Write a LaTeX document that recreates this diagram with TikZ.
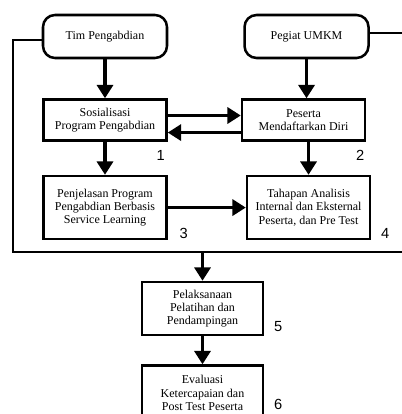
\documentclass[tikz,border=0pt]{standalone}
\usepackage{fontspec}
\setmainfont{Liberation Serif}
\newfontfamily\numfont{Liberation Sans}
\usetikzlibrary{positioning}
\usetikzlibrary{arrows.meta}
\tikzset{%
  flowarrow/.style = {-{Triangle[width=12pt,length=10pt]},line width=2.4pt},
  loopline/.style = {line width=1.9pt},
  t/.style = {rectangle,rounded corners=9pt,draw,line width=1.9pt,minimum width=93pt,
        minimum height=32.25pt,align=center,font=\fontsize{9}{10}\selectfont},
  b/.style = {rectangle,draw,line width=1.9pt,minimum width=92.25pt,
        minimum height=30.75pt,align=center,font=\fontsize{9}{10}\selectfont},
  num/.style = {font=\numfont\fontsize{11}{12}\selectfont}
}

\begin{document}
\begin{tikzpicture}[x=0.75pt,y=-0.75pt]
   \useasboundingbox (0,0) rectangle (401,414);
   \node[t] (tim) at (105,36.5) {Tim Pengabdian};
   \node[t] (pegiat) [right=56.25pt of tim] {Pegiat UMKM};
   \node[b] (sos) [below=29.25pt of tim] {Sosialisasi\\Program Pengabdian};
   \node[b] (pes) [right=54.75pt of sos] {Peserta\\Mendaftarkan Diri};
   \node[b,minimum height=47.25pt] (penj) [below=24.75pt of sos]
      {Penjelasan Program\\Pengabdian Berbasis\\Service Learning};
   \node[b,minimum height=47.25pt] (tah) [right=58.5pt of penj]
      {Tahapan Analisis\\Internal dan Eksternal\\Peserta, dan Pre Test};
   \node[b,minimum width=90.75pt,minimum height=39.75pt] (pel) at (202.5,308.5)
      {Pelaksanaan\\Pelatihan dan\\Pendampingan};
   \node[b,minimum width=90.75pt,minimum height=41.25pt] (eval) [below=21pt of pel]
      {Evaluasi\\Ketercapaian dan\\Post Test Peserta};
   % step numbers
   \node[num] (n1) at ([xshift=-5.25pt,yshift=-10.5pt]sos.south east) {1};
   \node[num] (n2) at ([xshift=-4.5pt,yshift=-10.5pt]pes.south east) {2};
   \node[num] (n3) at ([xshift=12pt,yshift=5.25pt]penj.south east) {3};
   \node[num] (n4) at ([xshift=10.5pt,yshift=5.25pt]tah.south east) {4};
   \node[num] (n5) at ([xshift=10.5pt,yshift=7.5pt]pel.south east) {5};
   \node[num] (n6) at ([xshift=10.5pt,yshift=-30.5pt]eval.north east) {6};
   % connectors
   \coordinate (busleft) at (13,252);
   \coordinate (busright) at (405,252);
   \draw[flowarrow] (tim) -- (sos);
   \draw[flowarrow] (pegiat) -- (pes.north -| pegiat);
   \draw[flowarrow] ([yshift=3.4pt]sos.east) -- ([yshift=3.4pt]pes.west);
   \draw[flowarrow] ([yshift=-9.4pt]pes.west) -- ([yshift=-9.4pt]sos.east);
   \draw[flowarrow] (sos) -- (penj);
   \draw[flowarrow] (tah.north |- pes.south) -- (tah.north);
   \draw[flowarrow] (penj) -- (tah);
   \draw[loopline] ([yshift=-2.6pt]tim.west) -| (busleft) -- (busright)
      |- ([yshift=2.6pt]pegiat.east);
   \draw[flowarrow] (pel.north |- busleft) -- (pel);
   \draw[flowarrow] (pel) -- (eval);
\end{tikzpicture}
\end{document}
